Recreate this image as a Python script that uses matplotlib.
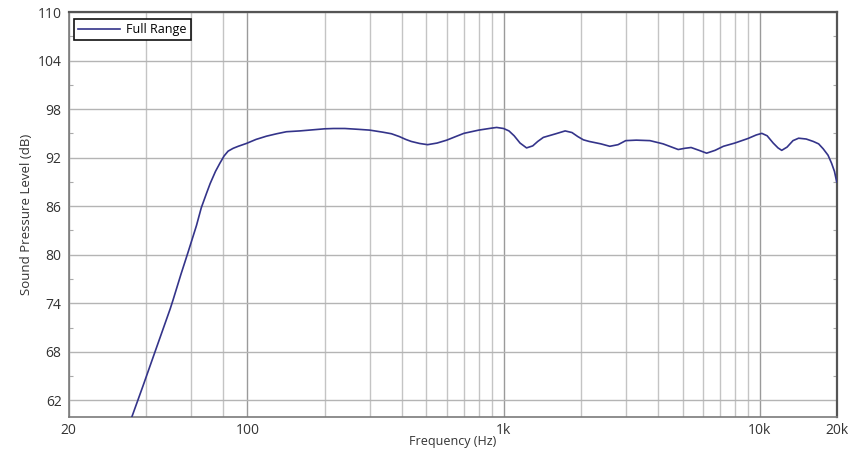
import matplotlib
matplotlib.use("Agg")
import matplotlib.pyplot as plt
from matplotlib.ticker import FixedLocator, NullFormatter

freq_hz = [35.4, 39.1, 43.5, 49.9, 51.2, 55.0, 58.6, 63.2, 66.0, 69.2, 71.5, 75.0,
           78.0, 81.0, 84.0, 87.9, 92.0, 99.0, 108.0, 118.6, 130.0, 142.0, 160.0,
           200.0, 217.0, 240.0, 270.0, 300.0, 337.0, 365.0, 392.0, 415.0, 436.0,
           470.0, 505.0, 550.0, 600.0, 650.0, 700.0, 800.0, 900.0, 940.0, 1000.0,
           1050.0, 1100.0, 1160.0, 1230.0, 1300.0, 1360.0, 1430.0, 1600.0, 1740.0,
           1850.0, 1950.0, 2050.0, 2160.0, 2400.0, 2600.0, 2800.0, 3000.0, 3300.0,
           3730.0, 4200.0, 4810.0, 5100.0, 5400.0, 5800.0, 6210.0, 6700.0, 7220.0,
           8000.0, 9000.0, 9700.0, 10200.0, 10700.0, 11300.0, 11800.0, 12200.0,
           12800.0, 13500.0, 14200.0, 15200.0, 16200.0, 17000.0, 17700.0, 18500.0,
           19100.0, 19600.0, 20000.0]
spl_db = [60.0, 63.8, 67.96, 73.3, 74.4, 77.6, 80.3, 83.6, 85.8, 87.6, 88.8, 90.3,
          91.3, 92.2, 92.8, 93.15, 93.4, 93.75, 94.25, 94.65, 94.95, 95.2, 95.3,
          95.56, 95.6, 95.6, 95.5, 95.4, 95.15, 94.95, 94.6, 94.25, 94.0,
          93.75, 93.6, 93.8, 94.16, 94.6, 95.0, 95.4, 95.65, 95.73, 95.6,
          95.3, 94.7, 93.8, 93.2, 93.45, 94.0, 94.5, 94.95, 95.3,
          95.1, 94.6, 94.2, 94.0, 93.7, 93.4, 93.6, 94.1, 94.16,
          94.1, 93.7, 93.0, 93.15, 93.25, 92.9, 92.55, 92.9, 93.4,
          93.8, 94.36, 94.8, 95.0, 94.7, 93.8, 93.2, 92.9,
          93.3, 94.1, 94.4, 94.3, 94.0, 93.7, 93.1, 92.3,
          91.3, 90.3, 89.0]

x_major_ticks = [20, 100, 1000, 10000, 20000]
x_major_labels = ["20", "100", "1k", "10k", "20k"]
x_grid_minor = [40, 60, 80, 200, 300, 400, 500, 600, 700, 800, 900,
                2000, 3000, 4000, 5000, 6000, 7000, 8000, 9000]
y_ticks = [62, 68, 74, 80, 86, 92, 98, 104, 110]
y_minor = [59, 65, 71, 77, 83, 89, 95, 101, 107]

plt.rcParams['font.family'] = ['Open Sans', 'DejaVu Sans']

fig = plt.figure(figsize=(8.63, 4.49), dpi=100)
ax = fig.add_axes([68.5/863, 1 - 416.5/449, (836.7 - 68.5)/863, (416.5 - 12)/449])

line_color = "#34348a"
ax.plot(freq_hz, spl_db, color=line_color, lw=1.2, label="Full Range", zorder=3)

ax.set_xscale("log")
ax.set_xlim(20, 20000)
ax.set_ylim(60, 110)

ax.xaxis.set_major_locator(FixedLocator(x_major_ticks))
ax.set_xticklabels(x_major_labels)
ax.xaxis.set_minor_locator(FixedLocator(x_grid_minor))
ax.xaxis.set_minor_formatter(NullFormatter())
ax.set_yticks(y_ticks)
ax.yaxis.set_minor_locator(FixedLocator(y_minor))

ax.grid(True, which="major", axis="x", color="#9a9a9a", lw=1.0, zorder=1)
ax.grid(True, which="minor", axis="x", color="#c4c4c4", lw=1.0, zorder=1)
ax.grid(True, which="major", axis="y", color="#b4b4b4", lw=1.0, zorder=1)

ax.tick_params(axis="both", which="major", length=0, labelsize=10, labelcolor="#333333", pad=5)
ax.tick_params(axis="x", which="minor", length=0)
ax.tick_params(axis="y", which="minor", length=3, direction="in", color="#aaaaaa",
               left=True, right=True, width=0.8)

for side in ["left", "bottom"]:
    ax.spines[side].set_color("#7a7a7a")
    ax.spines[side].set_linewidth(1.2)
for side in ["top", "right"]:
    ax.spines[side].set_color("#555555")
    ax.spines[side].set_linewidth(1.6)

ax.set_ylabel("Sound Pressure Level (dB)", fontsize=9.5, color="#333333", labelpad=3)
ax.xaxis.set_label_coords(0.5, -0.046)
ax.set_xlabel("Frequency (Hz)", fontsize=9, color="#333333", va="top")

leg = ax.legend(loc="upper left", bbox_to_anchor=(0.007, 0.982), fancybox=False,
                edgecolor="#111111", framealpha=1, fontsize=9, handlelength=3.4,
                borderpad=0.3, borderaxespad=0, handletextpad=0.5)
leg.get_frame().set_linewidth(1.2)

fig.savefig("out.png", dpi=100)
